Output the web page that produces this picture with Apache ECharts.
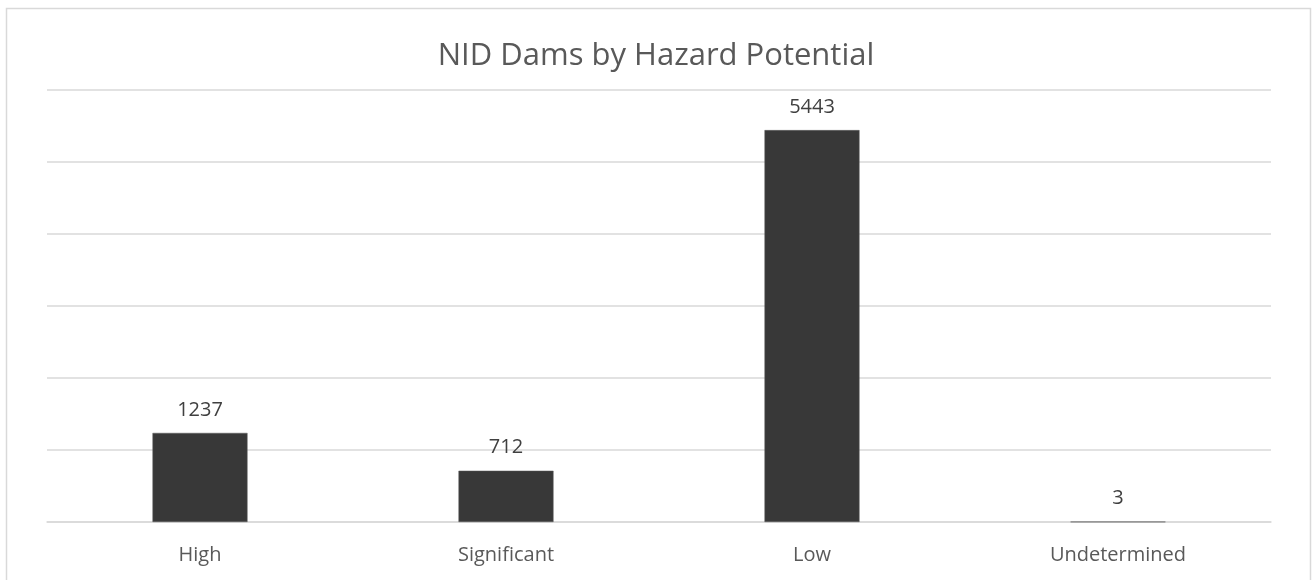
<!DOCTYPE html>
<html>
<head>
<meta charset="utf-8">
<script src="https://cdn.jsdelivr.net/npm/echarts@6/dist/echarts.min.js"></script>
<style>
html,body{margin:0;padding:0;background:#fff;}
#c{width:1312px;height:580px;}
</style>
</head>
<body>
<div id="c"></div>
<script>
const categories = ['High', 'Significant', 'Low', 'Undetermined'];
const values = [1237, 712, 5443, 3];
const chartTitle = 'NID Dams by Hazard Potential';

const chart = echarts.init(document.getElementById('c'), null, {renderer: 'canvas'});
chart.setOption({
  backgroundColor: '#fff',
  animation: false,
  title: {
    text: chartTitle,
    left: 'center',
    top: 36,
    textStyle: {fontFamily: 'Open Sans', fontSize: 31, fontWeight: 'normal', color: '#595959'}
  },
  graphic: [{
    type: 'rect',
    shape: {x: 6.5, y: 8.5, width: 1304, height: 620},
    style: {fill: 'none', stroke: '#d9d9d9', lineWidth: 1.5},
    silent: true
  }],
  grid: {left: 47, right: 41, top: 90, bottom: 58},
  xAxis: {
    type: 'category',
    data: categories,
    axisLine: {lineStyle: {color: '#d9d9d9', width: 1.5}},
    axisTick: {show: false},
    axisLabel: {fontFamily: 'Open Sans', fontSize: 20, color: '#595959', margin: 23}
  },
  yAxis: {
    type: 'value',
    min: 0, max: 6000, interval: 1000,
    axisLabel: {show: false},
    axisLine: {show: false},
    axisTick: {show: false},
    splitLine: {lineStyle: {color: '#d9d9d9', width: 1.5}}
  },
  series: [{
    type: 'bar',
    data: values,
    barWidth: 95,
    itemStyle: {color: '#383838', borderColor: '#5a5a5a', borderWidth: 0.5},
    label: {
      show: true, position: 'top', distance: 13,
      fontFamily: 'Open Sans', fontSize: 20, color: '#404040'
    }
  }]
});
</script>
</body>
</html>
